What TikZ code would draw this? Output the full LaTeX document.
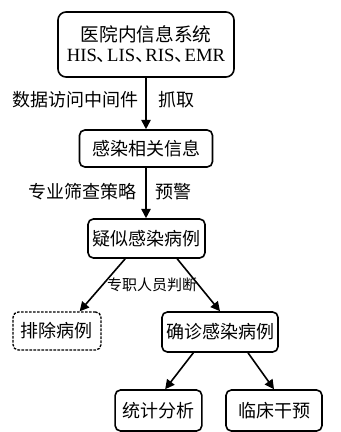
\documentclass[tikz,border=0pt]{standalone}
\usepackage{fontspec}
\setmainfont{Liberation Serif}
\newfontfamily\cjk{Noto Sans CJK SC}
\usetikzlibrary{arrows.meta,positioning}
\usetikzlibrary{calc}

\newcommand{\dunhao}{{\cjk 、}\kern-0.45em}

\begin{document}
\begin{tikzpicture}[x=0.75pt,y=-0.75pt,
    box/.style={draw, line width=1.2pt, rounded corners=4pt, align=center, inner sep=0pt, font=\cjk\fontsize{13.5}{16}\selectfont},
    lbl/.style={font=\cjk\fontsize{13.5}{16}\selectfont, inner sep=0pt},
    flow/.style={line width=1.2pt, -{Triangle[length=7pt,width=7pt]}}]

        \useasboundingbox (0,0) rectangle (340,432);

        % draw the boxes
        \node[box, minimum width=132pt, minimum height=48.75pt, rounded corners=6pt, font=\cjk\fontsize{14}{15}\selectfont] (sys) at (146,44.5) {医院内信息系统\\ \rmfamily HIS\dunhao LIS\dunhao RIS\dunhao EMR};
        \node[box, minimum width=99.75pt, minimum height=27.75pt] (info) at (146,148.5) {感染相关信息};
        \node[box, minimum width=87.75pt, minimum height=29.25pt] (susp) at (146.5,238.5) {疑似感染病例};
        \node[box, line width=1pt, dash pattern=on 2pt off 1pt, minimum width=66pt, minimum height=28.5pt] (excl) at (57,331) {排除病例};
        \node[box, minimum width=87pt, minimum height=30pt] (conf) at (220,332) {确诊感染病例};
        \node[box, minimum width=65pt, minimum height=30.75pt] (stat) at (158.5,410.5) {统计分析};
        \node[box, minimum width=72pt, minimum height=30.75pt] (care) at (274,410.5) {临床干预};

        % draw the connecting arrows
        \draw[flow] (sys.south) -- (info.north)
            node[pos=0.43, left=5pt, lbl] {数据访问中间件}
            node[pos=0.43, right=9pt, lbl] {抓取};
        \draw[flow] (info.south) -- (info.south |- susp.north)
            node[pos=0.48, left=6.5pt, lbl] {专业筛查策略}
            node[pos=0.48, right=6.5pt, lbl] {预警};

        % draw the branches
        \draw[flow] ([xshift=-16pt]susp.south) -- ([xshift=17pt]excl.north);
        \draw[flow] ([xshift=23pt]susp.south) -- (conf.north);
        \node[lbl, font=\cjk\fontsize{11.25}{13}\selectfont] (judge) at (152,285) {专职人员判断};
        \draw[flow] ([xshift=-20pt]conf.south) -- ([xshift=5pt]stat.north);
        \draw[flow] ([xshift=21pt]conf.south) -- (care.north);

\end{tikzpicture}
\end{document}
